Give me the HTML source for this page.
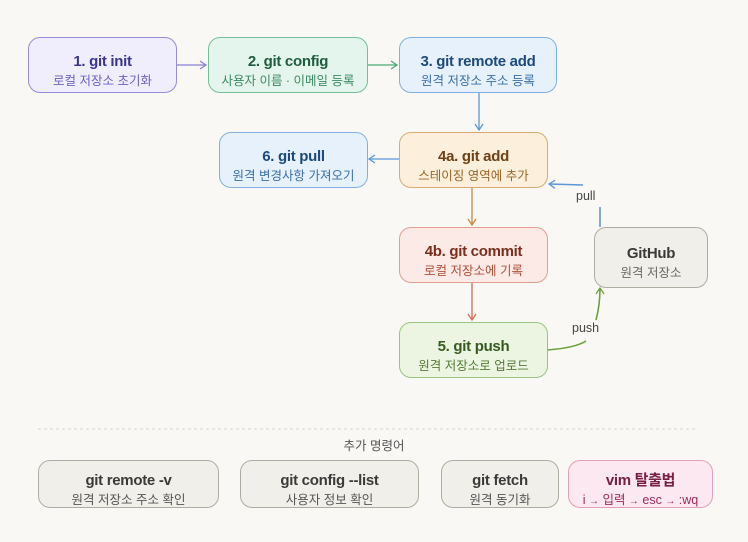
<!DOCTYPE html>
<html><head><meta charset="utf-8">
<style>
body{margin:0;width:748px;height:542px;background:#faf8f4;position:relative;overflow:hidden;font-family:"Liberation Sans","Noto Sans CJK KR",sans-serif;}
.n{position:absolute;box-sizing:border-box;border:1px solid;border-radius:12px;text-align:center;}
.n .t{font-weight:bold;font-size:15px;margin-top:15px;line-height:18px;letter-spacing:-0.3px}
.n .s{font-size:12.5px;margin-top:2px;line-height:16px}
.b .t{font-size:15px;margin-top:11px}
.b .s{margin-top:2px}
svg{position:absolute;left:0;top:0}
.lbl{position:absolute;font-size:12.5px;color:#444}
.ar{font-size:10px}
</style></head><body>
<svg width="748" height="542">
<defs>
<marker id="m" markerWidth="10" markerHeight="10" refX="8" refY="5" orient="auto" markerUnits="userSpaceOnUse"><path d="M2,1 L8,5 L2,9" fill="none" stroke="context-stroke" stroke-width="1.3"/></marker>
</defs>
<g fill="none" stroke-width="1.3">
<line x1="176" y1="65" x2="206" y2="65" stroke="#8a80d6" marker-end="url(#m)"/>
<line x1="367" y1="65" x2="397" y2="65" stroke="#4caa78" marker-end="url(#m)"/>
<line x1="479" y1="92" x2="479" y2="130" stroke="#5a98d6" marker-end="url(#m)"/>
<line x1="399" y1="159" x2="369" y2="159" stroke="#5a98d6" marker-end="url(#m)"/>
<line x1="472" y1="187" x2="472" y2="225" stroke="#c98a3a" marker-end="url(#m)"/>
<line x1="472" y1="282" x2="472" y2="320" stroke="#d86a50" marker-end="url(#m)"/>
<path d="M547,350 Q575,348 586,341" stroke="#6aa23a" stroke-width="1.6"/>
<path d="M596,320 Q600,305 600,288" stroke="#6aa23a" stroke-width="1.6" marker-end="url(#m)"/>
<line x1="600" y1="227" x2="600" y2="207" stroke="#5a98d6" stroke-width="1.6"/>
<line x1="583" y1="185" x2="549" y2="184" stroke="#5a98d6" stroke-width="1.6" marker-end="url(#m)"/>
<line x1="38" y1="429" x2="695" y2="429" stroke="#dedad2" stroke-dasharray="3,3"/>
</g>
</svg>
<div class="n" style="left:28px;top:37px;width:149px;height:56px;background:#f0eefc;border-color:#958bd8"><div class="t" style="color:#3b3490">1. git init</div><div class="s" style="color:#6b61c4">로컬 저장소 초기화</div></div>
<div class="n" style="left:208px;top:37px;width:160px;height:56px;background:#e3f5ec;border-color:#74bf98"><div class="t" style="color:#1e5c3e">2. git config</div><div class="s" style="color:#3c8a62">사용자 이름 · 이메일 등록</div></div>
<div class="n" style="left:399px;top:37px;width:158px;height:56px;background:#e6f1fb;border-color:#82b0de"><div class="t" style="color:#1d4a7a">3. git remote add</div><div class="s" style="color:#3a6fa6">원격 저장소 주소 등록</div></div>
<div class="n" style="left:219px;top:132px;width:149px;height:56px;background:#e6f1fb;border-color:#82b0de"><div class="t" style="color:#1d4a7a">6. git pull</div><div class="s" style="color:#3a6fa6">원격 변경사항 가져오기</div></div>
<div class="n" style="left:399px;top:132px;width:149px;height:56px;background:#fcefdc;border-color:#d9aa72"><div class="t" style="color:#6e4214">4a. git add</div><div class="s" style="color:#9a6424">스테이징 영역에 추가</div></div>
<div class="n" style="left:399px;top:227px;width:149px;height:56px;background:#fbeae6;border-color:#e0a090"><div class="t" style="color:#7a2e1c">4b. git commit</div><div class="s" style="color:#b0503a">로컬 저장소에 기록</div></div>
<div class="n" style="left:399px;top:322px;width:149px;height:56px;background:#ebf5e1;border-color:#98c480"><div class="t" style="color:#365a1e">5. git push</div><div class="s" style="color:#557a36">원격 저장소로 업로드</div></div>
<div class="n" style="left:594px;top:227px;width:114px;height:61px;background:#f1efea;border-color:#b0aca2"><div class="t" style="color:#3a3a38;margin-top:17px">GitHub</div><div class="s" style="color:#6a6862">원격 저장소</div></div>
<div class="lbl" style="left:576px;top:189px">pull</div>
<div class="lbl" style="left:572px;top:321px">push</div>
<div class="lbl" style="left:0;width:748px;text-align:center;top:435px;color:#555">추가 명령어</div>
<div class="n b" style="left:38px;top:460px;width:181px;height:48px;background:#f1efea;border-color:#b0aca2"><div class="t" style="color:#3a3a38">git remote -v</div><div class="s" style="color:#555">원격 저장소 주소 확인</div></div>
<div class="n b" style="left:240px;top:460px;width:179px;height:48px;background:#f1efea;border-color:#b0aca2"><div class="t" style="color:#3a3a38">git config --list</div><div class="s" style="color:#555">사용자 정보 확인</div></div>
<div class="n b" style="left:441px;top:460px;width:118px;height:48px;background:#f1efea;border-color:#b0aca2"><div class="t" style="color:#3a3a38">git fetch</div><div class="s" style="color:#555">원격 동기화</div></div>
<div class="n b" style="left:568px;top:460px;width:145px;height:48px;background:#fbe8f0;border-color:#e0a0bc"><div class="t" style="color:#7a1e44">vim 탈출법</div><div class="s" style="color:#a02c5c">i <span class="ar">→</span> 입력 <span class="ar">→</span> esc <span class="ar">→</span> :wq</div></div>
</body></html>
